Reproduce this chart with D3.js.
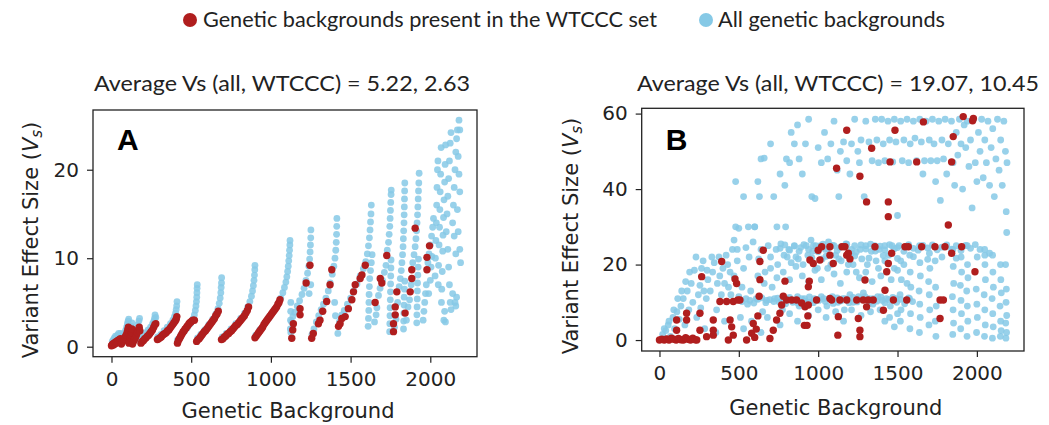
<!DOCTYPE html>
<html>
  <head>
    <meta charset="utf-8">
    <title>Variant effect size vs genetic background</title>
    <script src="https://d3js.org/d3.v7.min.js"></script>
    <style>
      body { margin: 0; background: #fff; }
      .tick line { stroke: #222; stroke-width: 1.2; }
    </style>
  </head>
  <body>
    <div id="vis"></div>
    <script>
        const width = 1049;
        const height = 425;

        // legend + panel titles
        const legendLabels = ["Genetic backgrounds present in the WTCCC set", "All genetic backgrounds"];
        const titleA = "Average Vs (all, WTCCC) = 5.22, 2.63";
        const titleB = "Average Vs (all, WTCCC) = 19.07, 10.45";

        // tick labels
        const xTicks = [0, 500, 1000, 1500, 2000];
        const yTicksA = [0, 10, 20];
        const yTicksB = [0, 20, 40, 60];

        // panel A, all genetic backgrounds: [background, Vs]
        const allA = [
          [5,0.6],[12,0.8],[18,1.0],[25,1.2],[32,1.0],[38,1.3],[45,1.5],[52,1.2],[58,1.5],[48,1.0],
          [66,0.9],[72,1.2],[80,1.5],[88,1.8],[95,2.2],[100,2.6],[104,2.9],[108,3.1],[114,1.3],[120,1.8],[124,2.3],[128,2.7],
          [136,1.0],[145,1.4],[152,1.7],[160,2.1],[166,2.5],[172,2.9],[176,3.2],
          [170,0.8],[185,1.0],[200,1.3],[215,1.6],[230,1.9],[245,2.2],[258,2.6],[266,2.9],[270,3.2],[273,3.6],[278,3.3],
          [290,1.1],[310,1.4],[330,1.8],[350,2.2],[370,2.6],[385,3.0],[395,3.4],[402,3.8],[406,4.2],[409,4.6],[411,5.1],
          [415,0.8],[435,1.3],[455,1.7],[475,2.1],[495,2.6],[510,3.1],[520,3.6],[526,4.1],[530,4.6],[533,5.1],[535,5.6],[536,6.1],[537,6.6],[538,7.0],
          [540,1.0],[560,1.4],[585,1.9],[610,2.5],[635,3.1],[655,3.7],[668,4.3],[676,4.9],[682,5.5],[686,6.1],[688,6.7],[690,7.2],[691,7.8],
          [695,1.1],[720,1.5],[750,2.0],[780,2.6],[810,3.2],[835,3.8],[855,4.5],[868,5.1],[878,5.7],[885,6.3],[890,6.9],[894,7.5],[897,8.1],[899,8.7],[900,9.2],
          [905,1.3],[930,1.9],[960,2.6],[990,3.3],[1020,4.1],[1045,4.8],[1062,5.5],[1075,6.1],[1085,6.7],[1094,7.3],[1100,7.9],[1105,8.5],
          [1109,9.1],[1112,9.7],[1115,10.3],[1117,10.9],[1119,11.5],[1120,12.0],[1122,2.0],[1123,3.0],[1124,4.0],[1125,5.0],
          [1125,1.6],[1130,2.8],[1138,3.4],[1150,3.9],[1165,4.6],[1180,5.2],[1195,5.9],[1208,6.6],[1220,7.5],[1230,8.3],[1238,9.1],
          [1243,9.9],[1246,10.7],[1248,11.5],[1250,12.3],[1251,13.2],[1240,6.0],[1250,7.0],
          [1258,1.4],[1270,2.0],[1285,2.8],[1300,3.5],[1315,4.2],[1330,4.8],[1345,5.5],[1360,6.3],[1372,7.2],[1385,8.2],[1395,9.1],
          [1402,10.0],[1407,10.9],[1410,11.8],[1412,12.7],[1413,13.6],[1414,14.5],[1400,5.0],[1405,3.5],
          [1420,1.5],[1430,2.8],[1445,3.6],[1460,4.1],[1480,4.8],[1500,5.5],[1520,6.3],[1540,7.1],[1560,8.0],[1580,8.8],[1595,9.6],
          [1605,10.5],[1612,11.4],[1618,12.3],[1622,13.2],[1625,14.1],[1628,15.0],[1630,16.0],[1610,2.3],[1612,3.2],[1614,4.1],
          [1615,5.0],[1616,5.9],[1618,6.8],[1620,7.7],[1625,8.6],[1630,9.5],[1635,10.4],
          [1650,2.8],[1660,3.6],[1665,4.4],[1675,5.8],[1685,6.6],[1700,7.5],[1712,8.4],[1722,9.2],[1730,10.9],[1738,11.8],[1742,12.7],
          [1746,13.6],[1748,14.5],[1750,15.4],[1752,16.3],[1754,17.2],[1755,17.7],[1745,1.7],[1746,2.6],[1747,3.5],[1748,4.4],
          [1749,5.3],[1750,6.2],[1751,7.1],[1752,8.0],[1753,8.9],[1754,9.8],
          [1775,2.2],[1785,3.1],[1795,5.0],[1805,6.8],[1812,7.7],[1818,8.6],[1822,9.5],[1826,10.4],[1829,11.3],[1831,12.2],[1833,13.1],
          [1835,14.0],[1836,14.9],[1837,15.8],[1838,16.7],[1839,17.6],[1840,18.5],[1832,2.0],[1833,2.9],[1834,3.8],[1835,4.7],
          [1836,5.6],[1838,6.5],[1840,7.4],
          [1850,3.0],[1860,4.5],[1870,5.3],[1880,7.0],[1890,9.5],[1898,10.4],[1905,11.3],[1910,12.2],[1914,13.1],[1917,14.0],[1920,14.9],
          [1922,15.8],[1924,16.7],[1926,17.6],[1928,18.5],[1930,19.6],[1915,2.7],[1916,3.6],[1917,4.5],[1918,5.4],[1919,6.3],
          [1920,7.2],[1922,8.1],[1924,9.0],[1926,9.9],
          [1955,3.0],[1960,4.0],[1965,5.0],[1970,6.0],[1975,7.0],[1985,9.5],[1992,10.5],[2000,11.5],[2008,12.5],[2015,13.5],[2020,14.5],
          [1990,6.0],[2000,7.5],[2005,9.0],[2010,10.2],
          [2030,8.0],[2032,10.0],[2035,12.0],[2038,14.0],[2040,16.0],[2042,18.0],[2045,20.0],[2048,21.0],[2050,7.0],[2052,9.2],
          [2055,11.5],[2058,13.5],[2060,15.5],[2062,17.5],[2065,19.5],[2068,22.5],[2070,5.0],[2072,6.5],[2075,8.5],[2078,10.8],
          [2080,12.6],[2083,14.6],[2086,16.6],[2090,18.6],[2093,20.6],[2096,22.8],[2085,3.0],[2090,4.0],[2095,2.8],
          [2100,13.0],[2105,15.0],[2110,17.0],[2115,19.0],[2120,21.0],[2125,23.0],[2130,24.2],[2110,11.0],[2115,9.0],[2120,7.0],
          [2125,5.0],[2130,4.2],[2140,14.0],[2145,16.0],[2150,18.0],[2155,20.0],[2160,22.0],[2165,23.5],[2170,24.5],[2180,25.6],
          [2185,24.5],[2175,21.5],[2180,19.5],[2185,17.5],[2170,15.5],[2175,13.0],[2185,11.0],[2190,9.5],[2160,10.5],[2150,12.5],
          [2155,5.0],[2160,4.6],[2165,5.6],[2140,6.0]
        ];

        // panel A, backgrounds present in WTCCC
        const wtcccA = [
          [0,0.1],[4,0.2],[8,0.3],[12,0.2],[16,0.4],[20,0.3],[24,0.5],[28,0.4],[32,0.6],[36,0.5],[40,0.7],[44,0.6],[48,0.8],[52,0.7],[56,0.9],[60,0.6],
          [62,0.3],[68,0.5],[74,0.7],[80,0.9],[86,1.1],[92,1.3],[98,1.6],[102,1.9],[106,2.2],[110,0.4],[114,0.7],[118,1.0],[122,1.3],[126,1.6],[128,2.0],
          [132,0.3],[138,0.6],[144,0.8],[150,1.0],[156,1.3],[162,1.6],[168,1.9],[174,2.2],[178,1.8],
          [185,0.4],[193,0.6],[201,0.7],[209,0.9],[217,1.0],[225,1.2],[233,1.3],[241,1.5],[249,1.7],[257,1.9],[265,2.2],[272,2.5],[278,2.6],
          [288,0.8],[296,0.9],[304,1.0],[312,1.1],[320,1.3],[328,1.4],[336,1.5],[344,1.6],[352,1.8],[360,1.9],[368,2.1],[376,2.3],
          [384,2.5],[392,2.7],[400,2.9],[406,3.1],[410,3.4],
          [414,0.4],[420,0.7],[426,0.9],[432,1.1],[438,1.3],[444,1.5],[450,1.7],[456,1.8],[462,2.0],[468,2.1],[474,2.3],[480,2.4],
          [486,2.6],[492,2.7],[498,2.8],[505,2.9],[512,3.0],[520,3.0],
          [534,0.6],[542,0.8],[550,0.9],[558,1.1],[566,1.3],[574,1.5],[582,1.7],[590,1.8],[598,2.0],[606,2.2],[614,2.4],[622,2.6],
          [630,2.8],[638,3.0],[646,3.2],[654,3.5],[662,3.7],[670,4.0],
          [690,0.8],[699,0.9],[708,1.1],[717,1.2],[726,1.4],[735,1.5],[744,1.7],[753,1.8],[762,2.0],[771,2.2],[780,2.4],[789,2.5],
          [798,2.7],[807,2.9],[816,3.1],[825,3.3],[834,3.5],[843,3.8],[852,4.1],[860,4.5],
          [900,1.0],[908,1.2],[916,1.4],[924,1.6],[932,1.8],[940,2.0],[948,2.2],[956,2.5],[964,2.7],[972,2.9],[980,3.1],[988,3.3],
          [996,3.5],[1004,3.7],[1012,3.9],[1020,4.1],[1028,4.3],[1036,4.5],[1044,4.8],[1051,5.0],[1057,5.3],
          [1131,0.95],[1137,1.9],[1141,2.6],[1183,4.3],[1183,3.6],[1221,7.2],[1245,9.2],
          [1256,0.95],[1266,1.5],[1298,2.6],[1308,3.0],[1325,4.0],[1350,5.1],[1371,7.0],[1382,8.7],
          [1424,2.3],[1434,2.6],[1445,3.2],[1466,3.4],[1486,4.3],[1508,5.3],[1518,6.2],[1529,7.0],[1560,7.7],[1571,8.1],[1592,9.2],
          [1654,5.0],[1686,7.7],[1696,7.2],[1727,10.3],
          [1769,1.7],[1769,2.6],[1780,3.6],[1780,4.5],[1790,6.2],
          [1842,3.8],[1874,6.2],[1884,7.7],[1884,8.7],[1905,13.4],
          [1979,8.7],[1979,10.1],[1995,11.4]
        ];

        // panel B, all genetic backgrounds
        const allB = [
          [20,1.5],[40,2.5],[55,4],[70,1],[85,6],[95,3],[110,7.5],[125,5.5],[135,9],[150,11],[160,4],[175,13],[185,8],[200,15],[210,10],
          [220,18.5],[235,6],[245,12],[255,14.5],[265,19],[275,21],[285,3],[295,11],[305,16],[320,13],[335,18],[345,20.5],[355,2],[365,15],
          [375,22],[390,12],[400,19],[410,5],[420,22.5],[435,14],[445,18],[460,24],[470,26.5],[480,30],[490,21],[500,11.5],
          [30,3],[60,5],[90,8],[115,11],[140,13],[165,15.5],[190,18],[230,22],[260,8.5],[280,13],[300,18.5],[330,22],[360,8],
          [380,17],[410,15],[430,20],[450,12],[470,17],[490,24],
          [510,6],[520,14],[530,19],[545,24.5],[555,9.5],[565,22],[575,13],[590,26],[600,30],[610,11],[625,21.5],[640,24],[650,7.5],
          [665,18],[675,10.5],[685,25],[700,22],[710,14],[725,11],[735,24],[745,20],[755,10],[765,25.5],[775,8],[785,22.5],[795,30],
          [805,11],[815,24],[830,20.5],[840,10],[850,25],[860,22],[870,11.5],[880,9],[890,24.5],[905,20],[915,11],[925,25],[935,22.5],
          [945,10],[955,26.5],[965,23.5],[975,11],[985,25],[995,19],
          [1005,10.5],[1015,25],[1025,21.5],[1035,11],[1045,24],[1055,9],[1065,26],[1080,20],[1090,11.5],[1100,25],[1110,22.5],[1125,10],
          [1135,24.5],[1145,21],[1155,11],[1165,8],[1175,25.5],[1190,20],[1200,12],[1210,23],[1220,10],[1230,25],[1240,18],[1255,11.5],
          [1265,24],[1275,21.5],[1285,12.5],[1300,25],[1310,20],[1320,11],[1335,23.5],[1345,9.5],[1355,25],[1365,21],[1375,11.5],[1385,24],
          [1395,17],[1405,10.5],[1420,25],[1430,11],[1445,22.5],[1455,9],[1465,25],[1480,19],[1490,11],[1500,24.5],
          [520,10.2],[545,11.0],[570,10.5],[595,9.8],[620,10.8],[645,11.2],[670,9.9],[695,10.7],[720,10.2],[745,11.1],[770,10.4],
          [795,9.6],[820,11.3],[845,10.5],[870,9.8],[895,11.0],[920,10.3],[945,11.4],[970,9.9],[995,10.8],[1020,11.5],[1045,10.2],
          [1070,10.9],[1095,9.7],[1120,11.2],[1145,10.4],[1170,11.0],[1195,9.9],[1220,11.3],[1245,10.1],[1270,10.9],[1295,11.5],
          [1320,9.8],[1345,11.0],[1370,10.3],[1395,11.4],[1420,9.9],[1445,10.7],[1470,11.3],[1495,10.0],[1520,10.8],[1545,9.6],
          [1570,11.2],[1595,10.2],
          [760,24.3],[790,25.2],[820,23.8],[850,24.9],[880,23.5],[910,25.3],[940,24.0],[970,25.0],[1000,23.4],[1030,25.4],[1060,24.2],
          [1090,25.1],[1120,23.7],[1150,24.8],[1180,25.4],[1210,24.0],[1240,23.3],[1270,25.2],[1300,24.1],[1330,25.4],[1360,23.6],
          [1390,24.9],[1420,23.9],[1450,25.3],[1480,24.2],[1510,25.0],[1540,23.5],[1570,25.3],[1600,24.3],[1630,23.8],[1660,25.1],
          [1690,24.4],[1720,25.2],[1750,23.9],[1780,24.6],[1810,25.2],[1840,24.1],[1870,25.0],[1900,23.7],[1930,25.1],[1960,24.3],
          [1990,25.3],[2020,24.0],[2050,22.5],[2080,23.0],
          [805,22.0],[875,21.5],[960,21.8],[1050,22.2],[1130,21.5],[1230,22.3],[1320,21.7],[1410,22.4],[1500,21.6],[1600,22.1],
          [1690,21.4],[1780,22.0],[1870,21.7],
          [620,17],[660,15],[700,19],[740,16.5],[780,18],[820,16],[860,19.5],[900,17],[940,15.5],[980,18.5],[1020,16],[1060,19],
          [1100,17.5],[1140,15],[1180,18],[1220,20],[1260,16.5],[1300,18],[1340,15.5],[1380,19],[1420,21],[1460,16],[1500,18.5],
          [1540,20],[1560,15],
          [530,3],[580,5],[640,2],[680,6],[760,4],[820,7],[870,5],[940,6.5],[1000,8],[1050,6],[1110,7.5],[1160,5],[1210,8],[1270,6.5],
          [1330,7.5],[1390,8],[1450,6],[1500,7],[1480,3.5],[1420,5],
          [1518,5],[1522,8],[1516,12],[1524,16],[1520,21],
          [1578,3],[1582,7],[1576,11],[1584,14],[1580,18],[1577,22.5],
          [1638,2],[1643,6],[1640,9.5],[1636,13],[1644,17],[1641,20.5],[1639,25],
          [1698,4],[1703,8],[1700,12],[1696,15.5],[1704,19],[1701,23],
          [1742,1],[1738,5],[1744,9],[1740,14],[1737,21],
          [1848,1.5],[1853,4.5],[1850,8],[1846,11.5],[1854,15],[1851,19.5],[1849,24],
          [1898,3],[1903,7],[1900,10.5],[1896,14.5],[1904,18],[1901,22],
          [1938,1],[1943,5],[1940,9],[1936,13],[1944,16.5],[1941,20],[1939,25],
          [1998,2],[2003,6],[2000,9.5],[1996,13.5],[2002,22],
          [2048,1],[2053,4],[2050,8],[2046,12],[2054,16],[2051,20],[2049,24],
          [2098,0.5],[2103,3.5],[2100,7],[2096,11],[2104,14],[2101,18],[2099,22.5],
          [2148,1],[2153,2.5],[2150,5],[2146,9],[2154,12.5],[2151,16],[2149,20],
          [2183,0.5],[2187,2],[2182,4.5],[2188,6.5],[2184,10],[2186,13.5],[2181,20],[2188,28.5],
          [480,42],[500,29.6],[530,38],[560,30],[600,30],[620,42],[630,38],[640,48],[660,48.2],[700,52],[720,38],[740,30],[760,44],
          [790,41],[800,48],[820,47],[830,55],[850,52],[870,57],[880,48],[900,44],[920,52],[940,58.5],[960,38],[980,37.5],[1000,51],
          [1020,47],[1040,55],[1060,48],[1080,52],[1100,58],[1120,45],[1130,38],[1140,50],[1160,52.5],[1180,47.5],[1200,44],[1210,52],
          [1230,58.5],[1250,50],[1260,47],[1270,53],[1290,38],[1300,58],[1320,52.5],[1340,47.5],[1360,58.5],[1370,53],[1380,47],
          [1400,58.5],[1410,52],[1420,47.5],[1440,58],[1450,53],[1470,47.2],[1480,58.5],[1490,52.5],[1500,33],[1520,58],[1530,47.5],
          [1540,53],[1560,58.5],[1570,47],[1580,52],[1600,58],[1610,53.5],[1620,47.5],[1640,58.5],[1650,52.5],[1660,44],[1670,47.5],
          [1680,58],[1700,53],[1710,47.5],[1720,58.5],[1730,52],[1740,42],[1750,47.5],[1760,58],[1770,37],[1780,53],[1790,48],[1800,58.5],
          [1810,44],[1820,52],[1840,58],[1850,47],[1860,41],[1870,55],[1880,49],[1890,58.5],[1900,52],[1910,40],[1920,57],[1930,51],
          [1940,58],[1950,46],[1960,53],[1970,35],[1980,58.5],[1990,47],[2000,42],[2010,55],[2020,50],[2030,58.5],[2040,43],[2050,53],
          [2060,47],[2070,58],[2080,41],[2090,51],[2100,56],[2110,38],[2120,48],[2130,58.5],[2140,45],[2150,53],[2160,41],[2170,58],
          [2180,50],[2185,34],[2190,47]
        ];

        // panel B, backgrounds present in WTCCC
        const wtcccB = [
          [0,0],[15,0.2],[30,0],[45,0.3],[60,0],[75,0.5],[90,0.2],[105,0],[120,0.4],[135,0.1],[150,0],[165,0.6],[180,0.2],[195,0],[210,0.5],[225,0.1],[235,0],
          [108,2.6],[108,5.3],[171,7.1],[171,5.3],[266,16.8],[255,7.1],[255,2.6],[297,0.9],[339,5.3],[339,2.6],[339,1.3],
          [392,20.8],[381,10.2],[423,10.2],[465,10.2],[445,5.3],[455,3.5],[465,1.3],[434,0],[476,16.2],[486,15.0],[494,10.6],
          [507,10.6],[549,0],[581,1.8],[591,4.4],[600,0.7],[610,2.9],[620,6.4],[628,11.6],[633,16.0],[633,20.8],[654,23.8],
          [696,0.4],[717,2.6],[738,5.3],[759,7.1],[770,9.3],[780,11.6],[791,15.6],
          [801,10.6],[833,10.6],[864,10.6],[896,9.8],[917,8.8],[913,3.9],[930,3.9],[935,6.4],[938,9.3],[938,14.1],[944,15.6],[948,21.2],
          [969,20.3],[990,10.6],[1000,23.8],[1011,21.2],[1022,24.7],[1074,24.7],[1074,22.5],[1074,11.0],[1085,10.6],[1095,20.3],
          [1124,1.3],[1127,6.2],[1137,10.6],[1150,24.7],[1169,24.7],[1180,22.5],[1180,10.6],[1190,23.0],[1200,21.5],
          [1243,10.6],[1253,5.7],[1263,2.6],[1263,0.9],[1284,10.6],[1295,15.9],[1305,8.8],[1316,10.6],
          [1347,10.6],[1358,24.7],[1411,7.9],[1421,13.2],[1432,18.1],[1442,20.3],[1463,23.0],[1474,10.6],[1547,24.7],[1558,10.6],
          [1568,24.7],[1652,24.7],[1736,24.7],[1768,10.6],[1768,5.7],[1789,10.6],[1799,24.7],[1820,30.5],[1841,23.0],[1904,24.7],[1988,18.1],
          [1180,55.6],[1116,45.5],[1263,43.4],[1337,50.8],[1305,36.6],[1442,32.7],[1442,36.6],[1453,47.2],[1484,55.6],[1663,57.8],
          [1621,47.2],[1851,53.9],[1841,47.2],[1914,59.2],[1973,58.1],[1978,58.7]
        ];

        const red = "#b01e1e";
        const blue = "#86c9e6";

        let vis = d3.select('#vis')
                    .append('svg')
                    .attr('width', width)
                    .attr('height', height)
                    .style('font-family', 'Lato, sans-serif');

        // legend on top
        const legend = vis.append("g");
        legend.append("circle").attr("cx", 190).attr("cy", 20).attr("r", 7).attr("fill", red);
        legend.append("text").attr("x", 203).attr("y", 27).attr("font-size", 21)
              .attr("textLength", 454).attr("lengthAdjust", "spacingAndGlyphs")
              .attr("fill", "#222").text(legendLabels[0]);
        legend.append("circle").attr("cx", 706).attr("cy", 20).attr("r", 7).attr("fill", blue);
        legend.append("text").attr("x", 718).attr("y", 27).attr("font-size", 21)
              .attr("textLength", 227).attr("lengthAdjust", "spacingAndGlyphs")
              .attr("fill", "#222").text(legendLabels[1]);

        function styleAxis(sel) {
          sel.select(".domain").remove();
          sel.attr("font-family", "DejaVu Sans, sans-serif").attr("font-size", 20);
          sel.selectAll("text").attr("fill", "#222");
        }

        function drawPanel(p) {
          const x = d3.scaleLinear().domain(p.xDomain).range([p.left, p.right]);
          const y = d3.scaleLinear().domain(p.yDomain).range([p.bottom, p.top]);
          const g = vis.append("g");

          // title above the box
          g.append("text").attr("x", p.titleX).attr("y", 91).attr("font-size", 21)
           .attr("textLength", p.titleLen).attr("lengthAdjust", "spacingAndGlyphs")
           .attr("fill", "#222").text(p.title);

          g.append("g").selectAll("circle")
           .data(p.all).enter().append("circle")
           .attr("cx", d => x(d[0])).attr("cy", d => y(d[1]))
           .attr("r", 3.4).attr("fill", blue).attr("fill-opacity", 0.85);

          g.append("g").selectAll("circle")
           .data(p.wtccc).enter().append("circle")
           .attr("cx", d => x(d[0])).attr("cy", d => y(d[1]))
           .attr("r", 3.7).attr("fill", red);

          g.append("g").attr("transform", `translate(0,${p.bottom})`)
           .call(d3.axisBottom(x).tickValues(xTicks).tickFormat(d3.format("d"))
                   .tickSize(6).tickPadding(9).tickSizeOuter(0))
           .call(styleAxis);

          g.append("g").attr("transform", `translate(${p.left},0)`)
           .call(d3.axisLeft(y).tickValues(p.yTicks).tickFormat(d3.format("d"))
                   .tickSize(6).tickPadding(8).tickSizeOuter(0))
           .call(styleAxis);

          g.append("rect").attr("x", p.left).attr("y", p.top)
           .attr("width", p.right - p.left).attr("height", p.bottom - p.top)
           .attr("fill", "none").attr("stroke", "#222").attr("stroke-width", 1.3);

          // panel letter
          g.append("text").attr("x", p.left + 24).attr("y", 150)
           .attr("font-family", "Liberation Sans, Arial, sans-serif").attr("font-weight", "bold")
           .attr("font-size", 30).attr("fill", "#000").text(p.letter);

          // axis labels
          g.append("text").attr("x", (p.left + p.right) / 2 + 3).attr("y", p.xLabelY)
           .attr("text-anchor", "middle").attr("font-family", "DejaVu Sans, sans-serif")
           .attr("font-size", 21).attr("fill", "#222").text("Genetic Background");

          const yl = g.append("text")
           .attr("transform", `translate(${p.yLabelX},${p.yLabelY}) rotate(-90)`)
           .attr("text-anchor", "middle").attr("font-family", "DejaVu Sans, sans-serif")
           .attr("font-size", 21).attr("fill", "#222");
          yl.append("tspan").text("Variant Effect Size (");
          yl.append("tspan").attr("font-style", "italic").text("V");
          yl.append("tspan").attr("font-style", "italic").attr("font-size", 15).attr("dy", 4).text("s");
          yl.append("tspan").attr("dy", -4).text(")");
        }

        drawPanel({
          all: allA, wtccc: wtcccA, title: titleA, letter: "A", yTicks: yTicksA,
          xDomain: [-116, 2293], yDomain: [-1.13, 26.75],
          left: 93, right: 477, top: 110, bottom: 356.7,
          titleX: 94, titleLen: 376, xLabelY: 418, yLabelX: 38, yLabelY: 240
        });

        drawPanel({
          all: allB, wtccc: wtcccB, title: titleB, letter: "B", yTicks: yTicksB,
          xDomain: [-112, 2297], yDomain: [-2.9, 61.4],
          left: 641.7, right: 1024, top: 108.3, bottom: 351,
          titleX: 637, titleLen: 402, xLabelY: 415, yLabelX: 578, yLabelY: 236
        });
    </script>
  </body>
</html>
